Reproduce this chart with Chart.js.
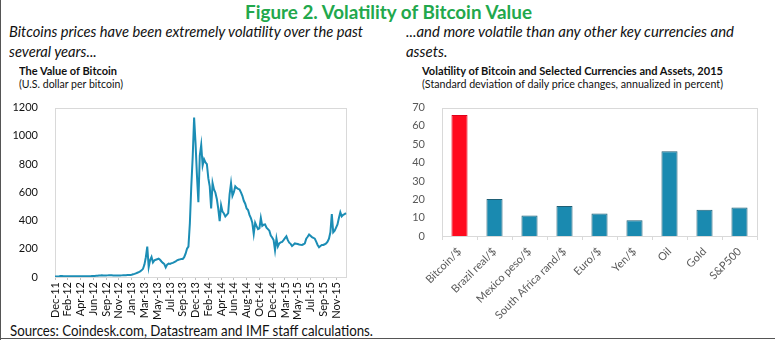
<!DOCTYPE html>
<html><head><meta charset="utf-8">
<script src="https://cdn.jsdelivr.net/npm/chart.js@4.4.1/dist/chart.umd.min.js"></script>
<style>
html,body{margin:0;padding:0;background:#fff;}
body{width:775px;height:340px;position:relative;overflow:hidden;font-family:Lato,"Open Sans",sans-serif;color:#111;}
.t{position:absolute;white-space:nowrap;line-height:1;transform-origin:0 0;}
.frame{position:absolute;background:#555;}
canvas{position:absolute;}
</style></head><body>
<div class="frame" style="left:0;top:0;width:1px;height:340px"></div>
<div class="frame" style="left:0;top:338px;width:775px;height:1px"></div>

<div id="title" class="t" style="left:245px;top:2px;font-size:19.5px;font-weight:bold;color:#22A84C">Figure 2. Volatility of Bitcoin Value</div>
<div id="l1" class="t" style="left:9px;top:24px;font-size:15px;font-style:italic">Bitcoins prices have been extremely volatility over the past</div>
<div id="l2" class="t" style="left:9px;top:44px;font-size:15px;font-style:italic">several years...</div>
<div id="r1" class="t" style="left:406px;top:24px;font-size:15px;font-style:italic">...and more volatile than any other key currencies and</div>
<div id="r2" class="t" style="left:406px;top:44px;font-size:15px;font-style:italic">assets.</div>
<div id="lt" class="t" style="left:19px;top:64.5px;font-size:12px;font-weight:bold">The Value of Bitcoin</div>
<div id="ls" class="t" style="left:19px;top:78px;font-size:12px">(U.S. dollar per bitcoin)</div>
<div id="rt" class="t" style="left:422px;top:64.5px;font-size:12px;font-weight:bold">Volatility of Bitcoin and Selected Currencies and Assets, 2015</div>
<div id="rs" class="t" style="left:422px;top:78px;font-size:12px">(Standard deviation of daily price changes, annualized in percent)</div>
<div id="src" class="t" style="left:10px;top:323px;font-size:15px">Sources: Coindesk.com, Datastream and IMF staff calculations.</div>

<canvas id="cL" width="360" height="230" style="left:0;top:92px;width:360px;height:230px"></canvas>
<canvas id="cR" width="375" height="230" style="left:400px;top:92px;width:375px;height:230px"></canvas>

<script>
// ---------- DATA ----------
const tickLabels = ["Dec-11","Feb-12","Apr-12","Jun-12","Sep-12","Nov-12","Jan-13","Mar-13","May-13","Jul-13","Sep-13","Dec-13","Feb-14","Apr-14","Jun-14","Aug-14","Oct-14","Dec-14","Mar-15","May-15","Jul-15","Sep-15","Nov-15"];
const pointsPerTick = 9;
const priceValues = [
 3,3.2,4,5,6.5,6.8,6.2,5.8,5.5,
 5,4.5,4.9,5,4.9,4.8,5,4.9,4.8,
 4.9,5,5.1,5.1,5.1,5.3,5.5,6,6.5,
 6.7,7.5,8.5,9,10.5,11,13,11,10.5,
 10.8,11.5,12.2,12.4,12,11.5,11,10.9,11,
 11,10.9,11.5,12.3,12.5,13,13.5,13.4,13.6,
 16,19,22,26,30,34,40,47,58,
 88,140,216,70,120,142,103,118,122,
 126,130,122,110,100,92,68,88,95,
 92,98,100,105,110,118,122,125,128,
 128,140,165,200,215,380,640,850,1130,
 950,720,530,860,935,790,834,811,800,
 700,642,485,665,620,597,553,485,395,
 508,463,450,429,440,452,586,665,575,
 600,642,631,625,620,600,575,540,519,
 485,474,440,418,384,305,384,360,339,
 345,418,362,370,373,350,339,328,294,
 280,261,189,272,216,238,245,249,261,
 275,288,261,243,235,220,228,238,236,
 234,230,228,227,232,238,272,285,301,
 292,283,278,272,250,227,211,220,227,
 227,232,238,250,272,317,445,317,328,
 350,373,418,458,429,440,445,452
];
const priceTicks = [0,200,400,600,800,1000,1200];

const volCategories = ["Bitcoin/$","Brazil real/$","Mexico peso/$","South Africa rand/$","Euro/$","Yen/$","Oil","Gold","S&P500"];
const volValues = [66,20.2,11.2,16.4,12.2,8.6,46.2,14.3,15.5];
const volTicks = [0,10,20,30,40,50,60,70];

// ---------- TEXT FIT ----------
function fitW(id, w){const el=document.getElementById(id);const s=w/el.getBoundingClientRect().width;el.style.transform='scaleX('+s+')';return s;}
function setS(id,s){document.getElementById(id).style.transform='scaleX('+s+')';}

const framePlugin = {
  id:'frame',
  beforeDatasetsDraw(chart){
    const a=chart.chartArea, c=chart.ctx;
    c.save(); c.strokeStyle='#d9d9d9'; c.lineWidth=1;
    c.strokeRect(Math.round(a.left)+0.5, Math.round(a.top)+0.5, Math.round(a.right-a.left), Math.round(a.bottom-a.top));
    c.restore();
  }
};

function draw(){
  fitW('title',287);
  const s1=fitW('l1',354); setS('l2',s1);
  const s2=fitW('r1',328); setS('r2',s2);
  fitW('lt',98); fitW('ls',104);
  fitW('rt',301); fitW('rs',301);
  fitW('src',363);

  Chart.defaults.font.family = 'Lato, "Open Sans", sans-serif';
  Chart.defaults.animation = false;

  const priceLabels = priceValues.map((v,i)=> i%pointsPerTick===0 ? (tickLabels[i/pointsPerTick]||'') : '');

  new Chart(document.getElementById('cL'),{
    type:'line',
    data:{labels:priceLabels,datasets:[{data:priceValues,borderColor:'#1B8DB5',borderWidth:2,pointRadius:0,tension:0,fill:false}]},
    options:{
      responsive:false,maintainAspectRatio:false,
      layout:{padding:{top:8,right:14,left:0,bottom:0}},
      plugins:{legend:{display:false},tooltip:{enabled:false}},
      scales:{
        x:{type:'category',offset:false,
          afterBuildTicks:s=>{s.ticks=s.ticks.filter(t=>t.value%pointsPerTick===0);},
          afterFit:s=>{s.height=45;},
          ticks:{autoSkip:false,maxRotation:90,minRotation:90,padding:2,color:'#111',font:{size:11},
            callback:function(v){return this.getLabelForValue(v);}},
          grid:{drawOnChartArea:false,drawTicks:true,tickLength:3,color:'#bfbfbf'},
          border:{display:false}},
        y:{min:0,max:1200,
          afterBuildTicks:s=>{s.ticks=priceTicks.map(v=>({value:v}));},
          afterFit:s=>{s.width=55;},
          ticks:{padding:9,color:'#111',font:{size:11},callback:v=>String(v)},
          grid:{display:false},border:{display:false}}
      }
    },
    plugins:[framePlugin]
  });

  new Chart(document.getElementById('cR'),{
    type:'bar',
    data:{labels:volCategories,datasets:[{data:volValues,
      backgroundColor:volCategories.map((c,i)=>i===0?'#FF0A1E':'#1A8AB0'),
      borderColor:volCategories.map((c,i)=>i===0?'#E0001A':'#1F5F75'),
      borderWidth:1,barPercentage:0.46,categoryPercentage:1}]},
    options:{
      responsive:false,maintainAspectRatio:false,
      layout:{padding:{top:10,right:18,left:0,bottom:0}},
      plugins:{legend:{display:false},tooltip:{enabled:false}},
      scales:{
        x:{offset:true,
          afterFit:s=>{s.height=86;},
          ticks:{autoSkip:false,maxRotation:45,minRotation:45,padding:5,color:'#595959',font:{size:11}},
          grid:{offset:true,drawOnChartArea:false,drawTicks:true,tickLength:4,color:'#d9d9d9'},
          border:{display:false}},
        y:{min:0,max:70,
          afterBuildTicks:s=>{s.ticks=volTicks.map(v=>({value:v}));},
          afterFit:s=>{s.width=42;},
          ticks:{padding:9,color:'#595959',font:{size:11},callback:v=>String(v)},
          grid:{display:false},border:{display:false}}
      }
    },
    plugins:[framePlugin]
  });
}
if (document.fonts && document.fonts.ready) document.fonts.ready.then(draw); else draw();
</script>
</body></html>
